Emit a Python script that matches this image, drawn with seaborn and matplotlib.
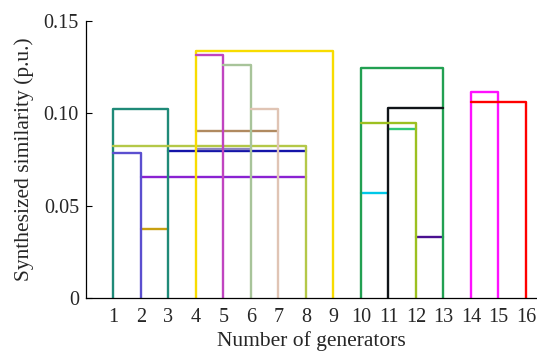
import matplotlib
matplotlib.use("Agg")
import matplotlib.pyplot as plt
import seaborn as sns
import pandas as pd

# generators on the x axis
generators = list(range(1, 17))
gen_labels = [str(g) for g in generators]

# cluster links: left generator, right generator, similarity level
link_left = [2, 2, 3, 4, 4, 11, 10, 12,
             1, 1, 1, 4, 4, 5, 6, 10, 11, 10, 14, 14]
link_right = [8, 3, 8, 6, 7, 12, 11, 13,
              3, 8, 2, 9, 5, 6, 7, 13, 13, 12, 15, 16]
link_height = [0.0655, 0.0374, 0.0794, 0.0805, 0.0906, 0.0913, 0.0567, 0.0332,
               0.1022, 0.0825, 0.0787, 0.1339, 0.1316, 0.1260, 0.1025, 0.1247,
               0.1027, 0.0946, 0.1116, 0.1060]
# whether the link's left / right leg drops to zero
drop_left = [0, 0, 0, 0, 0, 0, 0, 0,
             1, 0, 0, 1, 0, 0, 0, 1, 1, 0, 1, 0]
drop_right = [0, 0, 0, 0, 0, 0, 0, 0,
              1, 1, 1, 1, 1, 1, 1, 1, 0, 1, 1, 1]
link_colors = ["#8a22d2", "#c8a010", "#1414a8", "#8c84c0", "#b08a60", "#30c878",
               "#00c8e8", "#4a1090",
               "#1f8a78", "#b4c848", "#5b4fcf", "#f8dc00", "#c044c0", "#a8c49a",
               "#e0c4b4", "#22a052", "#101418", "#9cc020", "#ff10ff", "#ff0000"]

rows = []
for i, (l, r, h, dl, dr) in enumerate(zip(link_left, link_right, link_height,
                                          drop_left, drop_right)):
    pts = []
    if dl:
        pts.append((l, 0.0))
    pts.append((l, h))
    pts.append((r, h))
    if dr:
        pts.append((r, 0.0))
    for k, (x, y) in enumerate(pts):
        rows.append({"link": f"L{i:02d}", "order": k, "x": x, "y": y})
df = pd.DataFrame(rows)

sns.set_theme(style="white")
plt.rcParams["font.family"] = ["Liberation Serif", "DejaVu Serif"]

fig = plt.figure(figsize=(5.37, 3.53), dpi=100)
ax = fig.add_axes([0.160, 0.156, 0.840, 0.785])

palette = {f"L{i:02d}": c for i, c in enumerate(link_colors)}
sns.lineplot(data=df, x="x", y="y", hue="link", units="link", estimator=None,
             sort=False, palette=palette, linewidth=1.7, legend=False, ax=ax)

ax.set_xlim(0, 16.4)
ax.set_ylim(0, 0.15)
ax.set_xticks(generators)
ax.set_xticklabels(gen_labels)
ax.set_yticks([0, 0.05, 0.10, 0.15])
ax.set_yticklabels(["0", "0.05", "0.10", "0.15"])
ax.tick_params(axis="x", length=0, labelsize=14.5, pad=7)
ax.tick_params(axis="y", direction="in", length=4, width=0.8, labelsize=14.5,
               color="black", left=True, pad=5)
for s in ["top", "right"]:
    ax.spines[s].set_visible(False)
for s in ["left", "bottom"]:
    ax.spines[s].set_color("black")
    ax.spines[s].set_linewidth(0.9)
ax.set_xlabel("Number of generators", fontsize=15.5, labelpad=3.5)
ax.set_ylabel("Synthesized similarity (p.u.)", fontsize=15.5, labelpad=7)

fig.savefig("out.png", dpi=100)
